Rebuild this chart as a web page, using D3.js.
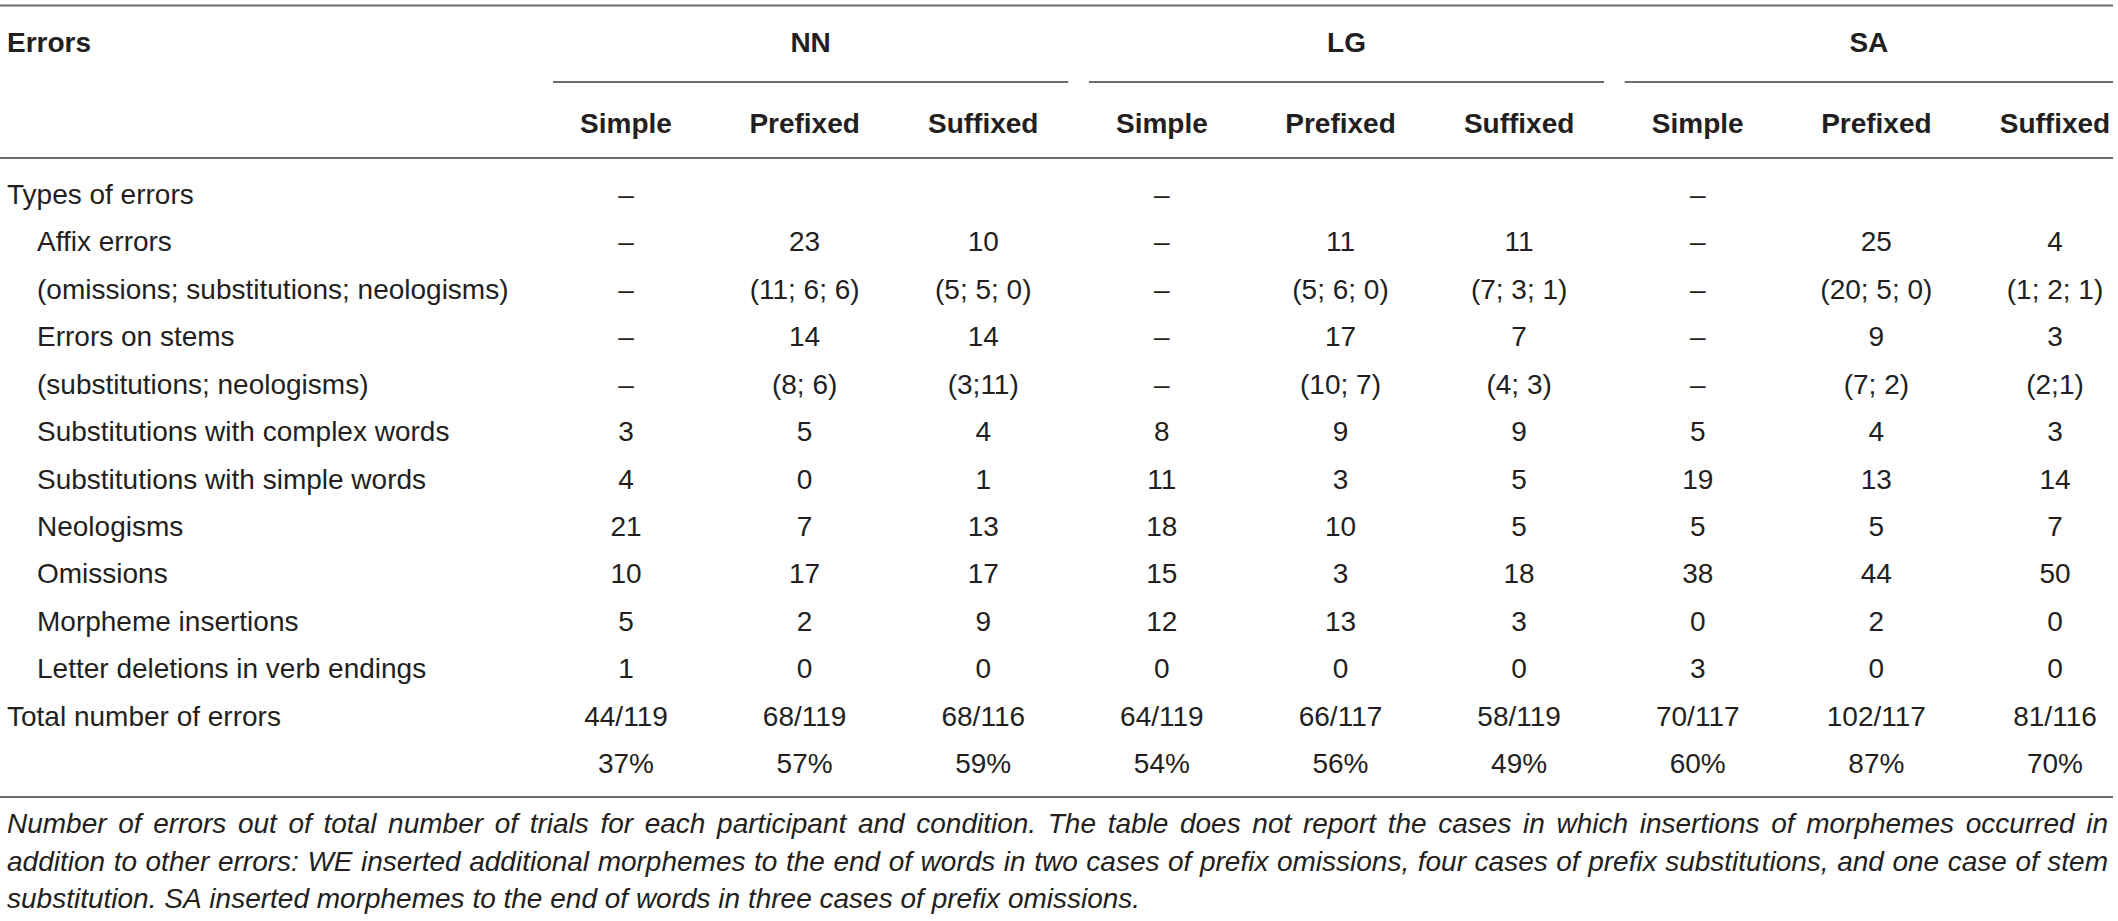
<!DOCTYPE html>
<html>
<head>
<meta charset="utf-8">
<script src="https://cdn.jsdelivr.net/npm/d3@7"></script>
<style>
    body { margin: 0; background: #fff; }
    svg text { font-family: "Liberation Sans", Arial, Helvetica, sans-serif; fill: #231f20; }
</style>
</head>
<body>
<div id="table"></div>
<script>
// participants and conditions
const groups = ['NN', 'LG', 'SA'];
const conditions = ['Simple', 'Prefixed', 'Suffixed'];

// row labels, indented ones are sub rows of "Types of errors"
const rowLabels = [
    'Types of errors',
    'Affix errors',
    '(omissions; substitutions; neologisms)',
    'Errors on stems',
    '(substitutions; neologisms)',
    'Substitutions with complex words',
    'Substitutions with simple words',
    'Neologisms',
    'Omissions',
    'Morpheme insertions',
    'Letter deletions in verb endings',
    'Total number of errors',
    ''
];
const rowIndented = [false, true, true, true, true, true, true, true, true, true, true, false, false];

// cell values, in order NN(Simple, Prefixed, Suffixed), LG(...), SA(...)
const typesOfErrors = ['–', '', '', '–', '', '', '–', '', ''];
const affixErrors = ['–', '23', '10', '–', '11', '11', '–', '25', '4'];
const affixDetail = ['–', '(11; 6; 6)', '(5; 5; 0)', '–', '(5; 6; 0)', '(7; 3; 1)', '–', '(20; 5; 0)', '(1; 2; 1)'];
const stemErrors = ['–', '14', '14', '–', '17', '7', '–', '9', '3'];
const stemDetail = ['–', '(8; 6)', '(3;11)', '–', '(10; 7)', '(4; 3)', '–', '(7; 2)', '(2;1)'];
const substComplex = [3, 5, 4, 8, 9, 9, 5, 4, 3];
const substSimple = [4, 0, 1, 11, 3, 5, 19, 13, 14];
const neologisms = [21, 7, 13, 18, 10, 5, 5, 5, 7];
const omissions = [10, 17, 17, 15, 3, 18, 38, 44, 50];
const morphemeInsertions = [5, 2, 9, 12, 13, 3, 0, 2, 0];
const letterDeletions = [1, 0, 0, 0, 0, 0, 3, 0, 0];
const totalErrors = ['44/119', '68/119', '68/116', '64/119', '66/117', '58/119', '70/117', '102/117', '81/116'];
const percentErrors = ['37%', '57%', '59%', '54%', '56%', '49%', '60%', '87%', '70%'];

const caption = 'Number of errors out of total number of trials for each participant and condition. ' +
    'The table does not report the cases in which insertions of morphemes occurred in ' +
    'addition to other errors: WE inserted additional morphemes to the end of words in two cases of prefix omissions, ' +
    'four cases of prefix substitutions, and one case of stem substitution. ' +
    'SA inserted morphemes to the end of words in three cases of prefix omissions.';

function drawTable() {

    let width = 2118;
    let height = 921;
    let left = 7;
    let right = 2111;
    let fontSize = 28;

    let rows = [typesOfErrors, affixErrors, affixDetail, stemErrors, stemDetail, substComplex,
        substSimple, neologisms, omissions, morphemeInsertions, letterDeletions, totalErrors, percentErrors];

    let svg = d3.select('#table').append('svg')
        .attr('width', width)
        .attr('height', height);

    // one key per column
    let columns = [];
    groups.forEach(function (g) {
        conditions.forEach(function (c) {
            columns.push({group: g, condition: c, key: g + '-' + c});
        });
    });

    let x = d3.scalePoint()
        .domain(columns.map(function (d) { return d.key; }))
        .range([626, 2055]);

    let y = d3.scaleLinear()
        .domain([0, rows.length - 1])
        .range([204, 773]);

    // rules
    let rule = function (x1, x2, yy) {
        svg.append('line')
            .attr('x1', x1).attr('x2', x2)
            .attr('y1', yy).attr('y2', yy)
            .attr('stroke', '#6d6e71')
            .attr('stroke-width', 2);
    };
    rule(left - 7, right + 2, 5.5);
    rule(left - 7, right + 2, 158);
    rule(left - 7, right + 2, 797);

    // header
    svg.append('text')
        .attr('x', left)
        .attr('y', 52)
        .attr('font-size', fontSize)
        .attr('font-weight', 'bold')
        .text('Errors');

    groups.forEach(function (g) {
        let x1 = x(g + '-' + conditions[0]) - 73;
        let x2 = Math.min(x(g + '-' + conditions[conditions.length - 1]) + 85, right + 2);
        rule(x1, x2, 82);
        svg.append('text')
            .attr('x', (x1 + x2) / 2)
            .attr('y', 52)
            .attr('text-anchor', 'middle')
            .attr('font-size', fontSize)
            .attr('font-weight', 'bold')
            .text(g);
    });

    svg.selectAll('.colHeader')
        .data(columns)
        .enter().append('text')
        .attr('class', 'colHeader')
        .attr('x', function (d) { return x(d.key); })
        .attr('y', 133)
        .attr('text-anchor', 'middle')
        .attr('font-size', fontSize)
        .attr('font-weight', 'bold')
        .text(function (d) { return d.condition; });

    // row labels
    svg.selectAll('.rowLabel')
        .data(rowLabels)
        .enter().append('text')
        .attr('class', 'rowLabel')
        .attr('x', function (d, i) { return rowIndented[i] ? left + 30 : left; })
        .attr('y', function (d, i) { return y(i); })
        .attr('font-size', fontSize)
        .text(function (d) { return d; });

    // cells
    let rowGroups = svg.selectAll('.row')
        .data(rows)
        .enter().append('g')
        .attr('class', 'row')
        .attr('transform', function (d, i) { return 'translate(0,' + y(i) + ')'; });

    rowGroups.selectAll('text')
        .data(function (d) { return d; })
        .enter().append('text')
        .attr('x', function (d, i) { return x(columns[i].key); })
        .attr('y', 0)
        .attr('text-anchor', 'middle')
        .attr('font-size', fontSize)
        .text(function (d) { return d; });

    // caption, justified like the source
    let words = caption.split(' ');
    let captionWidth = right - left - 3;
    let lineY = [833, 870.5, 908];
    let measure = svg.append('text')
        .attr('font-size', fontSize)
        .attr('font-style', 'italic');
    let widthOf = function (s) {
        measure.text(s);
        return measure.node().getComputedTextLength();
    };
    let spaceW = widthOf('a a') - widthOf('aa');

    let lines = [];
    let current = [];
    let currentW = 0;
    words.forEach(function (w) {
        let ww = widthOf(w);
        let extra = current.length ? spaceW : 0;
        if (currentW + extra + ww > captionWidth && current.length) {
            lines.push(current);
            current = [];
            currentW = 0;
            extra = 0;
        }
        current.push({word: w, w: ww});
        currentW += extra + ww;
    });
    lines.push(current);
    measure.remove();

    lines.forEach(function (line, li) {
        let total = d3.sum(line, function (d) { return d.w; });
        let last = li === lines.length - 1;
        let gap = last ? spaceW : (captionWidth - total) / (line.length - 1);
        let cx = left;
        line.forEach(function (d) {
            svg.append('text')
                .attr('x', cx)
                .attr('y', lineY[li] || lineY[lineY.length - 1] + 37.5 * (li - 2))
                .attr('font-size', fontSize)
                .attr('font-style', 'italic')
                .text(d.word);
            cx += d.w + gap;
        });
    });
}

drawTable();
</script>
</body>
</html>
